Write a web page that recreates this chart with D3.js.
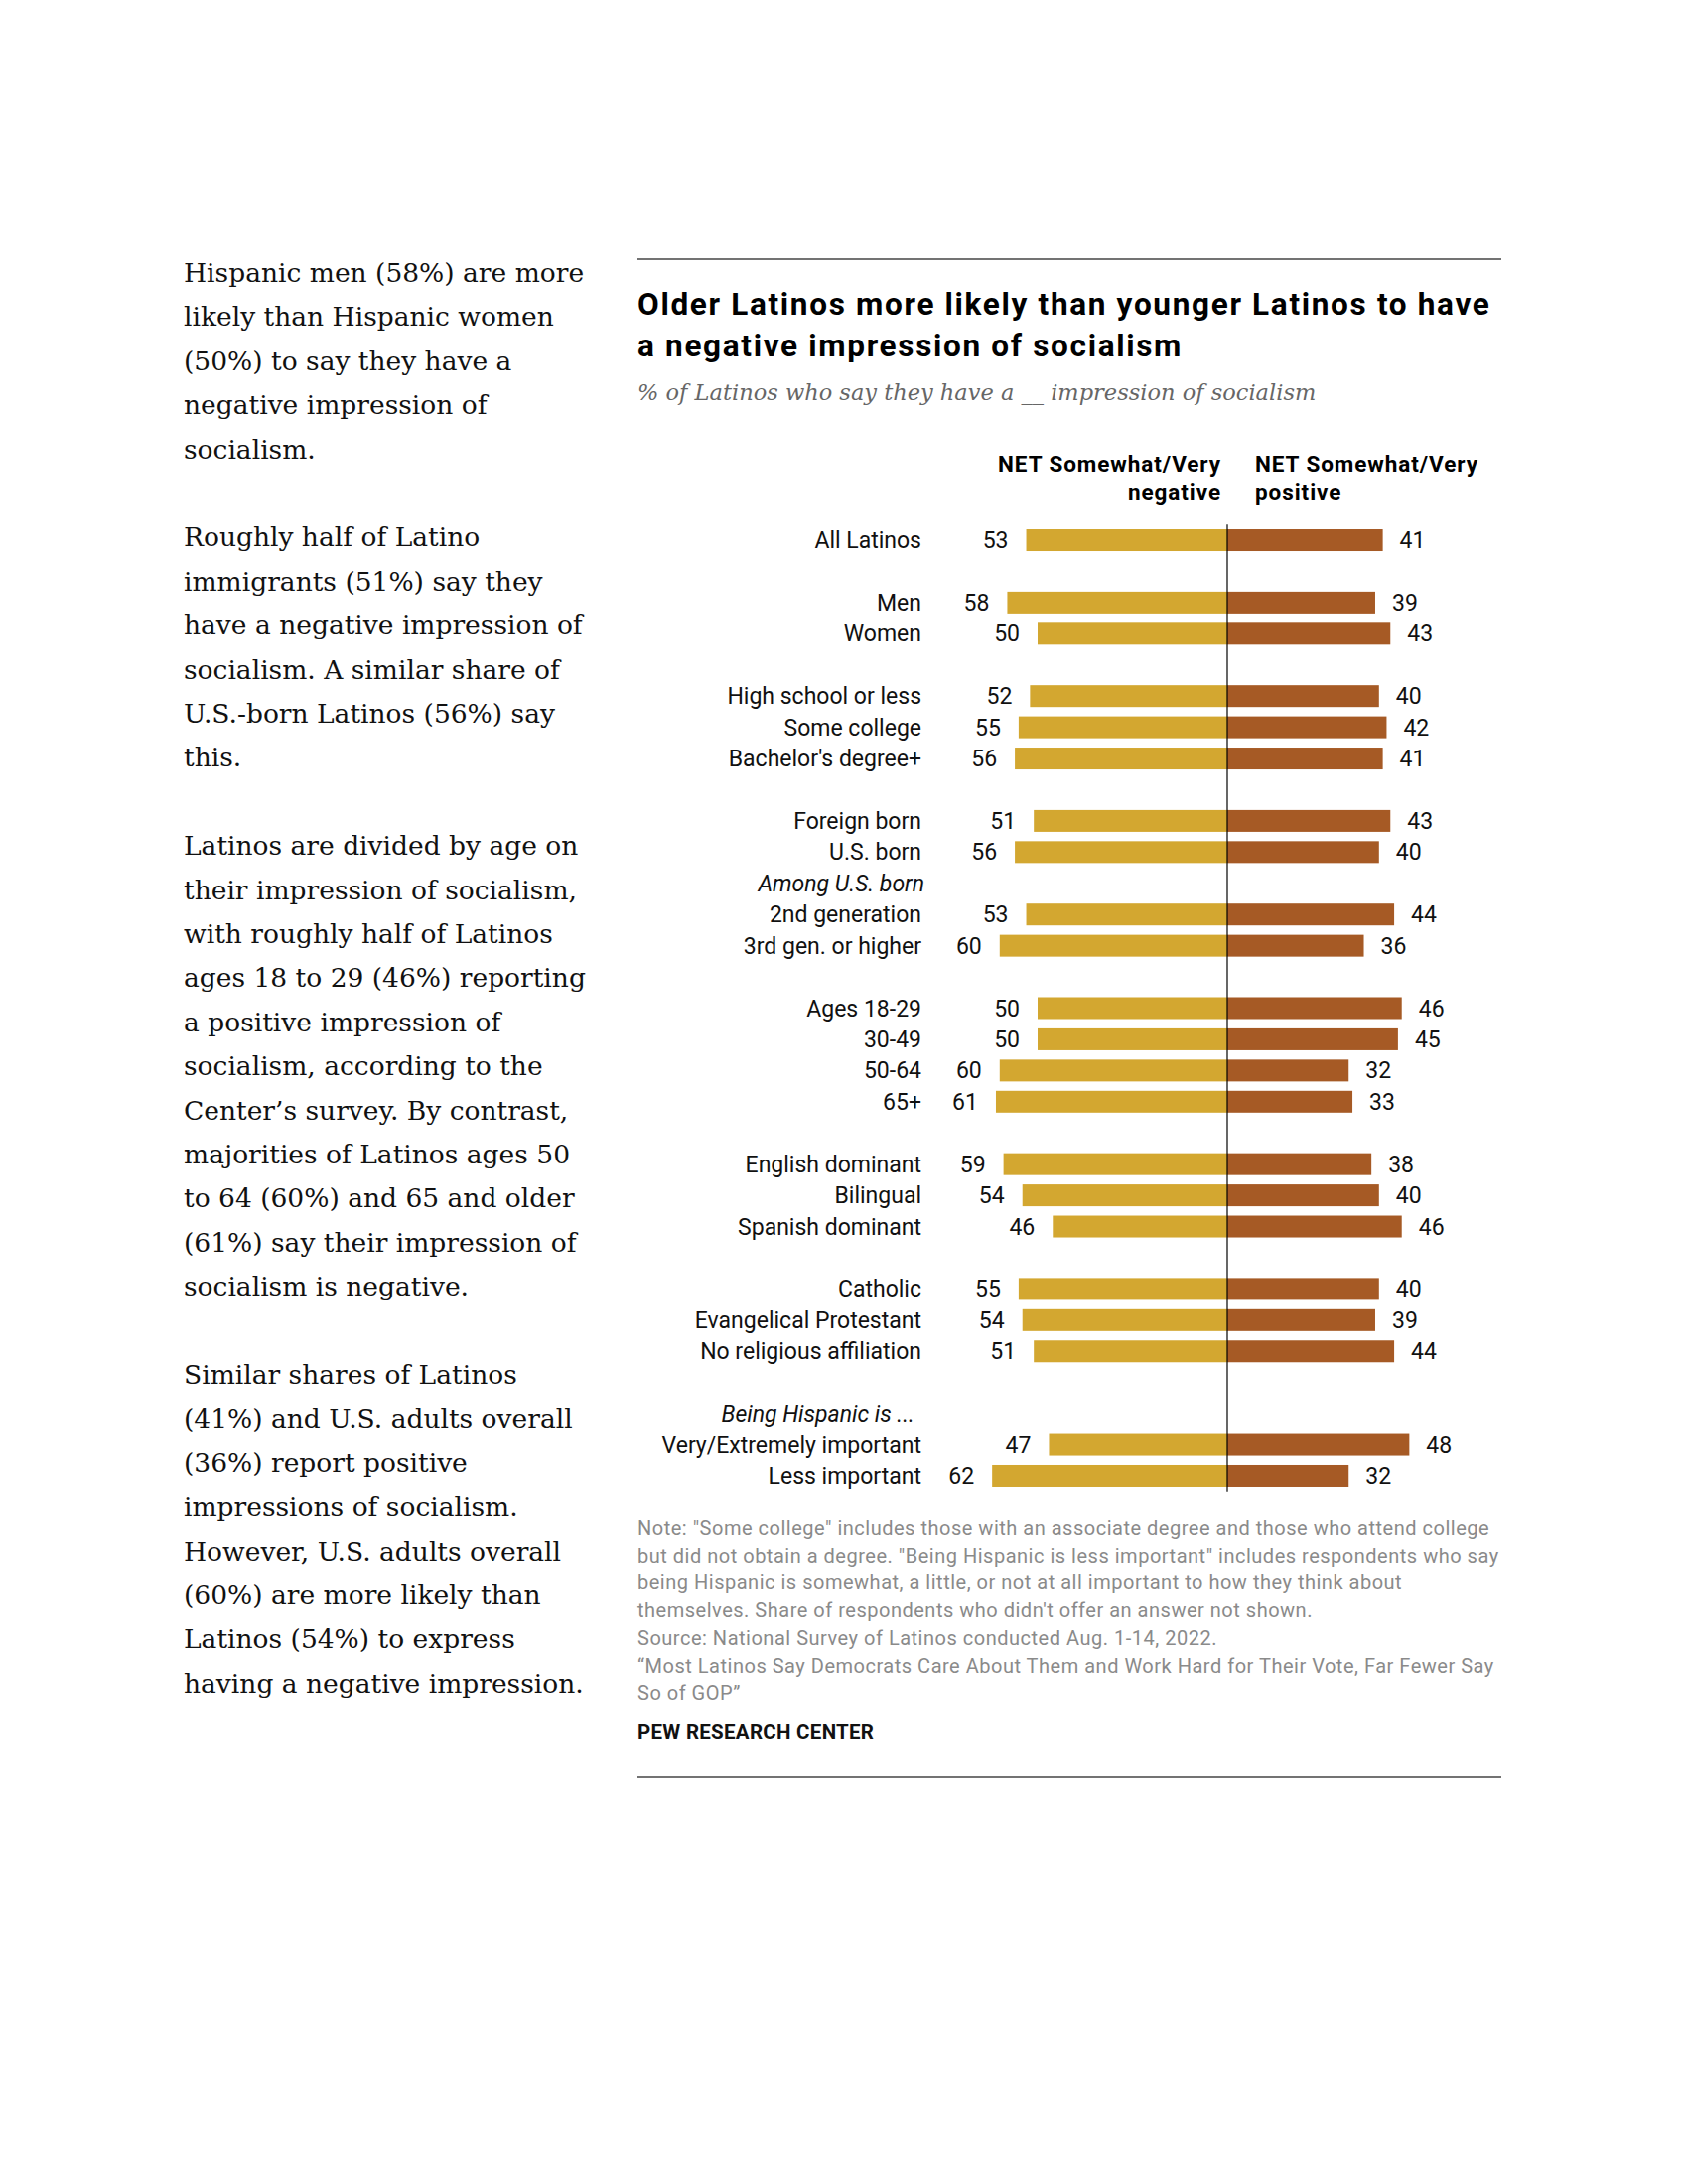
<!DOCTYPE html>
<html>
<head>
<meta charset="utf-8">
<script src="https://cdn.jsdelivr.net/npm/d3@7"></script>
<style>
  html, body { margin: 0; padding: 0; background: #fff; }
  svg { display: block; }
</style>
</head>
<body>
<div id="chart"></div>
<script>
// ---------------- DATA ----------------
const categories = [
  "All Latinos", "", "Men", "Women", "",
  "High school or less", "Some college", "Bachelor's degree+", "",
  "Foreign born", "U.S. born", "Among U.S. born", "2nd generation", "3rd gen. or higher", "",
  "Ages 18-29", "30-49", "50-64", "65+", "",
  "English dominant", "Bilingual", "Spanish dominant", "",
  "Catholic", "Evangelical Protestant", "No religious affiliation", "",
  "Being Hispanic is ...", "Very/Extremely important", "Less important"
];
const headerRows = ["Among U.S. born", "Being Hispanic is ..."];
const negativeValues = [
  53, null, 58, 50, null,
  52, 55, 56, null,
  51, 56, null, 53, 60, null,
  50, 50, 60, 61, null,
  59, 54, 46, null,
  55, 54, 51, null,
  null, 47, 62
];
const positiveValues = [
  41, null, 39, 43, null,
  40, 42, 41, null,
  43, 40, null, 44, 36, null,
  46, 45, 32, 33, null,
  38, 40, 46, null,
  40, 39, 44, null,
  null, 48, 32
];
const seriesNames = ["NET Somewhat/Very|negative", "NET Somewhat/Very|positive"];

const titleLines = [
  "Older Latinos more likely than younger Latinos to have",
  "a negative impression of socialism"
];
const subtitle = "% of Latinos who say they have a __ impression of socialism";
const noteLines = [
  "Note: \"Some college\" includes those with an associate degree and those who attend college",
  "but did not obtain a degree. \"Being Hispanic is less important\" includes respondents who say",
  "being Hispanic is somewhat, a little, or not at all important to how they think about",
  "themselves. Share of respondents who didn't offer an answer not shown.",
  "Source: National Survey of Latinos conducted Aug. 1-14, 2022.",
  "\u201CMost Latinos Say Democrats Care About Them and Work Hard for Their Vote, Far Fewer Say",
  "So of GOP\u201D"
];
const sourceLabel = "PEW RESEARCH CENTER";

const bodyParagraphs = [
  ["Hispanic men (58%) are more", "likely than Hispanic women", "(50%) to say they have a", "negative impression of", "socialism."],
  ["Roughly half of Latino", "immigrants (51%) say they", "have a negative impression of", "socialism. A similar share of", "U.S.-born Latinos (56%) say", "this."],
  ["Latinos are divided by age on", "their impression of socialism,", "with roughly half of Latinos", "ages 18 to 29 (46%) reporting", "a positive impression of", "socialism, according to the", "Center\u2019s survey. By contrast,", "majorities of Latinos ages 50", "to 64 (60%) and 65 and older", "(61%) say their impression of", "socialism is negative."],
  ["Similar shares of Latinos", "(41%) and U.S. adults overall", "(36%) report positive", "impressions of socialism.", "However, U.S. adults overall", "(60%) are more likely than", "Latinos (54%) to express", "having a negative impression."]
];

// ---------------- LAYOUT ----------------
const W = 1700, H = 2200;
const sans = "Roboto, 'Noto Sans', 'Liberation Sans', sans-serif";
const serif = "'DejaVu Serif', 'Liberation Serif', serif";
const negColor = "#d3a730";
const posColor = "#a65a25";

const svg = d3.select("#chart").append("svg")
  .attr("width", W).attr("height", H)
  .attr("viewBox", `0 0 ${W} ${H}`);
svg.append("rect").attr("width", W).attr("height", H).attr("fill", "#fff");

// Spread letters of a group of text lines so the reference line reaches a target width
function fitSpacing(sel, refNode, targetWidth) {
  const len = refNode.getComputedTextLength();
  const n = refNode.textContent.length;
  const ls = Math.max(0, (targetWidth - len) / Math.max(1, n - 1));
  sel.attr("letter-spacing", ls.toFixed(2));
}

// ---- Left body text ----
const bodyG = svg.append("g").attr("font-family", serif).attr("font-size", 26.5).attr("fill", "#111");
let lineIdx = 0;
const bodyLine = d3.scaleLinear().domain([0, 1]).range([284, 284 + 44.4]);
bodyParagraphs.forEach(para => {
  para.forEach(t => {
    bodyG.append("text").attr("x", 185).attr("y", bodyLine(lineIdx)).text(t);
    lineIdx++;
  });
  lineIdx++; // blank line between paragraphs
});

// ---- Chart panel ----
const panelLeft = 642, panelRight = 1512;
svg.append("line").attr("x1", panelLeft).attr("x2", panelRight)
  .attr("y1", 261).attr("y2", 261).attr("stroke", "#444").attr("stroke-width", 1.5);
svg.append("line").attr("x1", panelLeft).attr("x2", panelRight)
  .attr("y1", 1790).attr("y2", 1790).attr("stroke", "#444").attr("stroke-width", 1.5);

// Title
const titleSel = svg.append("g").selectAll("text").data(titleLines).join("text")
  .attr("x", panelLeft).attr("y", (d, i) => 317 + i * 42)
  .attr("font-family", sans).attr("font-weight", 700).attr("font-size", 31.5)
  .attr("fill", "#000").text(d => d);
fitSpacing(titleSel, titleSel.node(), 858);

// Subtitle
svg.append("text").attr("x", panelLeft).attr("y", 403)
  .attr("font-family", serif).attr("font-style", "italic").attr("font-size", 22.5)
  .attr("fill", "#666").text(subtitle);

// Scales
const center = 1236;
const xNeg = d3.scaleLinear().domain([0, 100]).range([center, center - 382]);
const xPos = d3.scaleLinear().domain([0, 100]).range([center, center + 382]);
const y = d3.scaleBand().domain(d3.range(categories.length))
  .range([528.3, 1502.7]).paddingInner(0.3).paddingOuter(0.15);

// Column headers
const hdr = svg.append("g").attr("font-family", sans).attr("font-weight", 700)
  .attr("font-size", 22.5).attr("fill", "#000");
const negHdr = seriesNames[0].split("|");
const posHdr = seriesNames[1].split("|");
negHdr.forEach((t, i) => hdr.append("text").attr("x", center - 6).attr("y", 475 + i * 29)
  .attr("text-anchor", "end").text(t));
posHdr.forEach((t, i) => hdr.append("text").attr("x", center + 28).attr("y", 475 + i * 29)
  .attr("text-anchor", "start").text(t));
fitSpacing(hdr.selectAll("text"), hdr.select("text").node(), 224);

const rows = categories.map((c, i) => ({
  i, label: c, neg: negativeValues[i], pos: positiveValues[i],
  header: headerRows.includes(c)
}));

const chartG = svg.append("g").attr("font-family", sans).attr("font-size", 23).attr("fill", "#111");

// Bars
chartG.selectAll("rect.neg").data(rows.filter(d => d.neg != null)).join("rect")
  .attr("class", "neg")
  .attr("x", d => xNeg(d.neg)).attr("width", d => center - xNeg(d.neg))
  .attr("y", d => y(d.i)).attr("height", y.bandwidth())
  .attr("fill", negColor);
chartG.selectAll("rect.pos").data(rows.filter(d => d.pos != null)).join("rect")
  .attr("class", "pos")
  .attr("x", center).attr("width", d => xPos(d.pos) - center)
  .attr("y", d => y(d.i)).attr("height", y.bandwidth())
  .attr("fill", posColor);

// Center axis line
chartG.append("line").attr("x1", center).attr("x2", center)
  .attr("y1", y.range()[0]).attr("y2", y.range()[1])
  .attr("stroke", "#000").attr("stroke-width", 1.2);

// Category labels
chartG.selectAll("text.cat").data(rows.filter(d => d.label)).join("text")
  .attr("class", "cat")
  .attr("x", d => d.header ? (d.label.startsWith("Being") ? 921 : 931) : 928)
  .attr("y", d => y(d.i) + y.bandwidth() / 2 + 8)
  .attr("text-anchor", "end")
  .attr("font-style", d => d.header ? "italic" : "normal")
  .text(d => d.label);

// Value labels
chartG.selectAll("text.nv").data(rows.filter(d => d.neg != null)).join("text")
  .attr("class", "nv")
  .attr("x", d => xNeg(d.neg) - 18)
  .attr("y", d => y(d.i) + y.bandwidth() / 2 + 8)
  .attr("text-anchor", "end").text(d => d.neg);
chartG.selectAll("text.pv").data(rows.filter(d => d.pos != null)).join("text")
  .attr("class", "pv")
  .attr("x", d => xPos(d.pos) + 17)
  .attr("y", d => y(d.i) + y.bandwidth() / 2 + 8)
  .attr("text-anchor", "start").text(d => d.pos);

// Notes
const noteSel = svg.append("g").selectAll("text").data(noteLines).join("text")
  .attr("x", panelLeft).attr("y", (d, i) => 1546 + i * 27.7)
  .attr("font-family", sans).attr("font-size", 20).attr("fill", "#8a8a8a")
  .text(d => d);
fitSpacing(noteSel, noteSel.node(), 858);

const pew = svg.append("text").attr("x", panelLeft).attr("y", 1752)
  .attr("font-family", sans).attr("font-weight", 700).attr("font-size", 20.5)
  .attr("fill", "#111").text(sourceLabel);
fitSpacing(pew, pew.node(), 238);
</script>
</body>
</html>
